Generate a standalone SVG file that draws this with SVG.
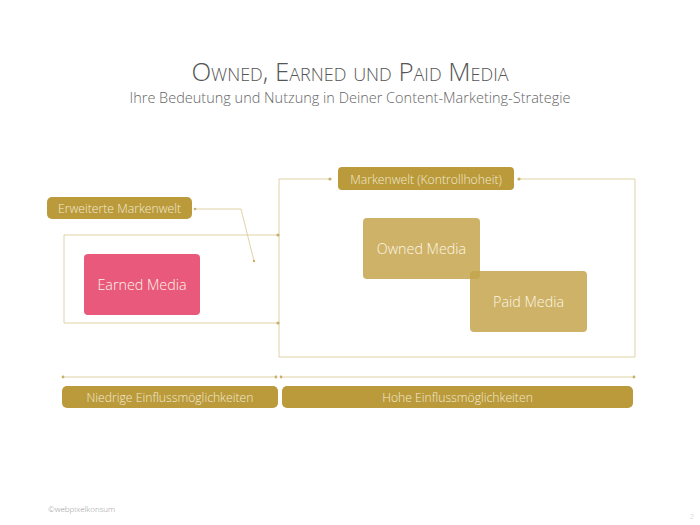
<svg xmlns="http://www.w3.org/2000/svg" width="700" height="525" viewBox="0 0 700 525">
<style>
text{font-family:"Open Sans","Liberation Sans",sans-serif;font-weight:300}
.lbl{fill:#ba9a3b}
.lt{fill:#f3ead2;font-size:12.2px;text-anchor:middle}
.ln{fill:none;stroke:#dfd2a6;stroke-width:1}
.dot{fill:#c9b068}
.med{fill:#fff6e4;font-size:14.3px;text-anchor:middle}
</style>
<rect width="700" height="525" fill="#ffffff"/>
<g id="title">
<text x="350" y="81" font-size="25.8" fill="#555" text-anchor="middle" style="font-variant:small-caps">Owned, Earned und Paid Media</text>
<text x="350" y="103" font-size="14.5" fill="#666" text-anchor="middle">Ihre Bedeutung und Nutzung in Deiner Content-Marketing-Strategie</text>
</g>
<g id="connectors">
<path class="ln" d="M330 179 H279 V357 H635 V179 H519"/>
<path class="ln" d="M278 235 H64 V323 H278"/>
<path class="ln" d="M195 209 H241 L254 261"/>
<path class="ln" d="M63 377 H276 M281 377 H634"/>
<circle class="dot" cx="330" cy="179" r="1.6"/>
<circle class="dot" cx="519" cy="179" r="1.6"/>
<circle class="dot" cx="278" cy="235" r="1.6"/>
<circle class="dot" cx="278" cy="323" r="1.6"/>
<circle class="dot" cx="195" cy="209" r="1.3"/>
<circle class="dot" cx="254" cy="261" r="1.2"/>
<circle class="dot" cx="63" cy="377" r="1.4"/>
<circle class="dot" cx="276" cy="377" r="1.4"/>
<circle class="dot" cx="281" cy="377" r="1.4"/>
<circle class="dot" cx="634" cy="377" r="1.4"/>
</g>
<g id="markenwelt">
<rect class="lbl" x="338" y="167" width="176" height="23" rx="4"/>
<text class="lt" x="426" y="183.5">Markenwelt (Kontrollhoheit)</text>
</g>
<g id="erweiterte">
<rect class="lbl" x="47" y="197" width="145" height="22" rx="5"/>
<text class="lt" x="119.5" y="212.5">Erweiterte Markenwelt</text>
</g>
<g id="earned">
<rect x="84" y="254" width="116" height="61" rx="4" fill="#e8597c"/>
<text class="med" x="142" y="289.5">Earned Media</text>
</g>
<g id="owned">
<rect x="363" y="218" width="117" height="61" rx="4" fill="#c4a54e" fill-opacity="0.85"/>
<text class="med" x="421.5" y="254">Owned Media</text>
</g>
<g id="paid">
<rect x="470" y="271" width="117" height="61" rx="4" fill="#c4a54e" fill-opacity="0.85"/>
<text class="med" x="528.5" y="307">Paid Media</text>
</g>
<g id="niedrige">
<rect class="lbl" x="62" y="386" width="216" height="22" rx="5"/>
<text class="lt" x="170" y="401.5">Niedrige Einflussmöglichkeiten</text>
</g>
<g id="hohe">
<rect class="lbl" x="282" y="386" width="351" height="22" rx="5"/>
<text class="lt" x="457.5" y="401.5">Hohe Einflussmöglichkeiten</text>
</g>
<text x="48" y="512" font-size="8" fill="#999">©webpixelkonsum</text>
<text x="690" y="519" font-size="7" fill="#bbb">2</text>
</svg>
